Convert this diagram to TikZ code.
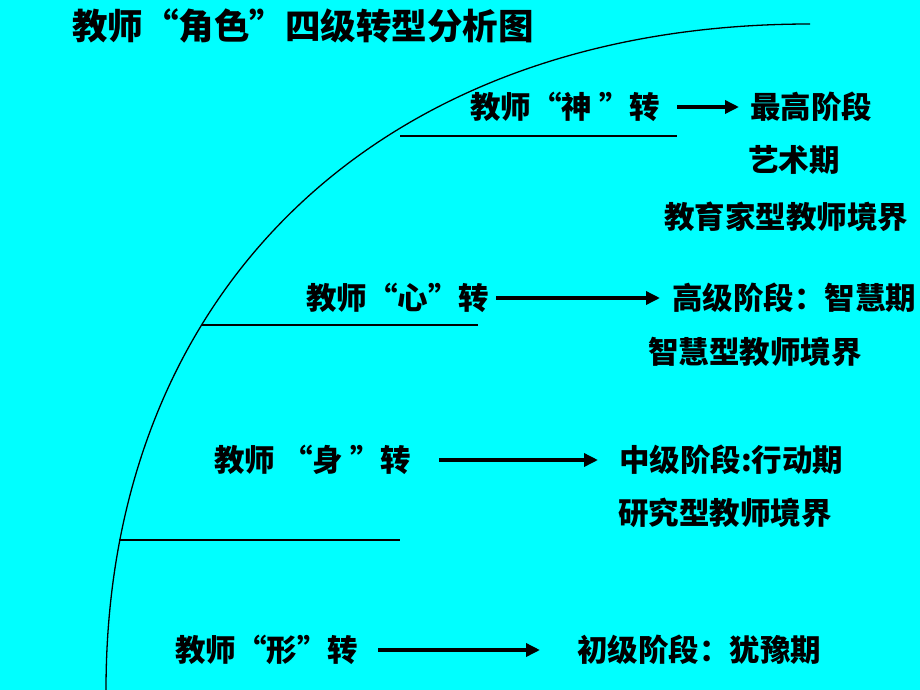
\documentclass[tikz,border=0pt]{standalone}
\usepackage{fontspec}
\newfontfamily\cjk{Noto Sans CJK SC}
\usetikzlibrary{arrows.meta}
\begin{document}
\begin{tikzpicture}[x=1pt,y=-1pt,
  ttl/.style={font=\cjk\bfseries\fontsize{35.5}{35.5}\selectfont, inner sep=0pt, anchor=west, text=black},
  lbl/.style={font=\cjk\bfseries\fontsize{30.5}{30.5}\selectfont, inner sep=0pt, anchor=west, text=black},
  arr/.style={line width=3.4pt, -{Triangle[length=14pt,width=13pt]}},
  rule/.style={line width=1.2pt},
  curve/.style={line width=1.3pt}]
\useasboundingbox[fill={rgb,255:red,0;green,255;blue,255}] (0,0) rectangle (920,690);

% curve
\coordinate (c0) at (106,690);
\coordinate (c1) at (106,290);
\coordinate (c2) at (380,24);
\coordinate (c3) at (810,24);
\draw[curve] (c0) .. controls (c1) and (c2) .. (c3);

% level rules
\coordinate (r1a) at (400,136);  \coordinate (r1b) at (677,136);
\coordinate (r2a) at (202,325);  \coordinate (r2b) at (478,325);
\coordinate (r3a) at (119,540);  \coordinate (r3b) at (400,540);
\draw[rule] (r1a) -- (r1b);
\draw[rule] (r2a) -- (r2b);
\draw[rule, line width=2.2pt] (r3a) -- (r3b);

% title
\node[ttl] (title) at (72,26) {教师“角色”四级转型分析图};

% level 4
\node[lbl] (t4) at (470,107) {教师“神 ”转};
\node[lbl] (s4) at (750,107) {最高阶段};
\node[lbl] (s4b) at (748,160) {艺术期};
\node[lbl] (s4c) at (664,217) {教育家型教师境界};
\coordinate (a4s) at (677,107); \coordinate (a4e) at (739,107);
\draw[arr] (a4s) -- (a4e);

% level 3
\node[lbl] (t3) at (306,298) {教师“心”转};
\node[lbl] (s3) at (672,298) {高级阶段：智慧期};
\node[lbl] (s3b) at (648,352) {智慧型教师境界};
\coordinate (a3s) at (496,298); \coordinate (a3e) at (660,298);
\draw[arr] (a3s) -- (a3e);

% level 2
\node[lbl] (t2) at (214,460) {教师 “身 ”转};
\node[lbl] (s2) at (619,460) {中级阶段:行动期};
\node[lbl] (s2b) at (618,513) {研究型教师境界};
\coordinate (a2s) at (439,460); \coordinate (a2e) at (598,460);
\draw[arr] (a2s) -- (a2e);

% level 1
\node[lbl] (t1) at (175,650) {教师“形”转};
\node[lbl] (s1) at (577,650) {初级阶段：犹豫期};
\coordinate (a1s) at (378,650); \coordinate (a1e) at (540,650);
\draw[arr] (a1s) -- (a1e);
\end{tikzpicture}
\end{document}
